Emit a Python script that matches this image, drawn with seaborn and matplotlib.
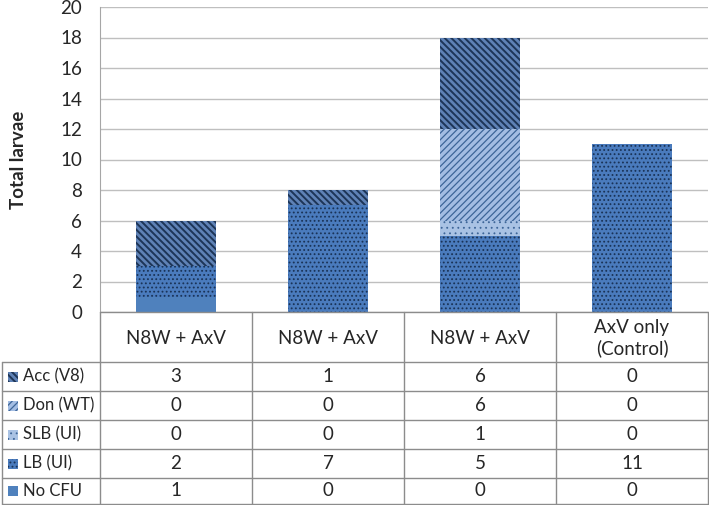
import numpy as np
import pandas as pd
import seaborn as sns
import matplotlib.pyplot as plt
from matplotlib.patches import Rectangle

# data
groups = ["N8W + AxV", "N8W + AxV", "N8W + AxV", "AxV only\n(Control)"]
series = ["Acc (V8)", "Don (WT)", "SLB (UI)", "LB (UI)", "No CFU"]
acc = [3, 1, 6, 0]
don = [0, 0, 6, 0]
slb = [0, 0, 1, 0]
lb = [2, 7, 5, 11]
no_cfu = [1, 0, 0, 0]
values = [acc, don, slb, lb, no_cfu]
y_ticks = list(range(0, 21, 2))

# styles per series (face, hatch colour, hatch, hatch linewidth)
styles = {
    "Acc (V8)": ("#5f82b6", "#1d3557", "\\\\\\\\\\", 1.4),
    "Don (WT)": ("#a3bde3", "#3d6598", "/////", 0.9),
    "SLB (UI)": ("#a9c2e4", "#3d6598", "...", 0.6),
    "LB (UI)": ("#4a7bbd", "#1a3357", "....", 0.8),
    "No CFU": ("#4f81bd", "#4f81bd", "", 1.0),
}

FS = 13.5
FS_ROW = 12

sns.set_style("white")
plt.rcParams["font.family"] = ["Lato", "DejaVu Sans"]


def set_hlw(patch, lw):
    if hasattr(patch, "set_hatch_linewidth"):
        patch.set_hatch_linewidth(lw)
    else:
        patch._hatch_linewidth = lw


W, H = 709, 505
fig = plt.figure(figsize=(W / 100, H / 100), dpi=100)
ax = fig.add_axes([100 / W, 1 - 312 / H, 608 / W, 305 / H])

keys = [f"g{i}" for i in range(len(groups))]
df = pd.DataFrame({"group": keys})
# stacked bars: draw cumulative totals, top layer first
cum = np.zeros(len(groups))
tops = []
for vals in values[::-1]:
    cum = cum + np.array(vals)
    tops.append(cum.copy())
tops = tops[::-1]
for name, top in zip(series, tops):
    face, hcol, hatch, hlw = styles[name]
    df["v"] = top
    n_before = len(ax.patches)
    sns.barplot(data=df, x="group", y="v", order=keys, ax=ax, width=0.52,
                color=face, saturation=1, edgecolor=hcol, linewidth=0,
                hatch=hatch, errorbar=None)
    for p in ax.patches[n_before:]:
        set_hlw(p, hlw)

ax.set_ylim(0, 20)
ax.set_xlim(-0.5, len(groups) - 0.5)
ax.set_yticks(y_ticks)
ax.set_yticklabels([str(t) for t in y_ticks], fontsize=FS)
ax.tick_params(axis="y", length=0, pad=13)
ax.set_xticks([])
ax.set_xlabel("")
ax.set_ylabel("Total larvae", fontsize=FS, fontweight="bold", labelpad=24)
ax.yaxis.grid(True, color="#bfbfbf", linewidth=1)
ax.set_axisbelow(True)
for s in ["top", "right", "bottom"]:
    ax.spines[s].set_visible(False)
ax.spines["left"].set_color("#a6a6a6")

# data table drawn in pixel coords
ov = fig.add_axes([0, 0, 1, 1])
ov.set_xlim(0, W)
ov.set_ylim(H, 0)
ov.axis("off")
lc = "#8c8c8c"
col_x = [100, 252, 404, 556, 708]
row_y = [362, 391, 420, 449, 478, 504]
ov.plot([100, 708], [312, 312], color=lc, lw=1)
for y in row_y:
    ov.plot([2, 708], [y, y], color=lc, lw=1)
for x in col_x:
    ov.plot([x, x], [312, 504], color=lc, lw=1)
ov.plot([2, 2], [362, 504], color=lc, lw=1)

for i, g in enumerate(groups):
    cx = (col_x[i] + col_x[i + 1]) / 2
    ov.text(cx, 338, g, ha="center", va="center", fontsize=FS, linespacing=1.2)

for r, (name, vals) in enumerate(zip(series, values)):
    cy = (row_y[r] + row_y[r + 1]) / 2
    face, hcol, hatch, hlw = styles[name]
    key = Rectangle((8, cy - 5), 10, 10, facecolor=face, edgecolor=hcol,
                    hatch=hatch, linewidth=0)
    set_hlw(key, hlw)
    ov.add_patch(key)
    ov.text(23, cy, name, ha="left", va="center", fontsize=FS_ROW)
    for i, v in enumerate(vals):
        cx = (col_x[i] + col_x[i + 1]) / 2
        ov.text(cx, cy, str(v), ha="center", va="center", fontsize=FS)

fig.savefig("out.png", dpi=100)
